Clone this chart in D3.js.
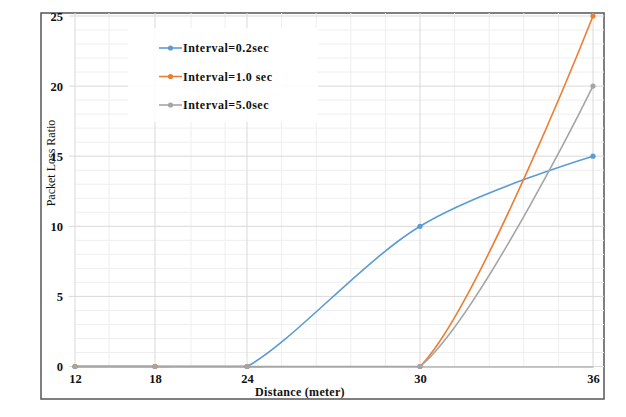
<!DOCTYPE html>
<html><head><meta charset="utf-8">
<script src="https://cdn.jsdelivr.net/npm/d3@7"></script>
<style>body{margin:0;background:#fff;}svg{display:block;}</style>
</head><body>
<script>
const distances = [12, 18, 24, 30, 36];
const interval02 = [0, 0, 0, 10, 15];
const interval10 = [0, 0, 0, 0, 25];
const interval50 = [0, 0, 0, 0, 20];
const seriesNames = ["Interval=0.2sec", "Interval=1.0 sec", "Interval=5.0sec"];
const yTicks = [0, 5, 10, 15, 20, 25];
const minorX = [14.55, 20.35, 22.57, 25.2, 26.4, 27.6, 28.8, 31.2, 32.4, 33.6, 34.8];

const W = 626, H = 417;
const svg = d3.select("body").append("svg").attr("width", W).attr("height", H);

const x = d3.scaleLinear().domain(distances).range([75, 155, 247, 420, 593]);
const y = d3.scaleLinear().domain([0, 25]).range([366.5, 16]);

const colors = ["#5B9BD5", "#ED7D31", "#A5A5A5"];
const serif = "Liberation Serif, Times New Roman, serif";

// frame
svg.append("rect").attr("x", 41).attr("y", 13).attr("width", 563).attr("height", 386)
  .attr("fill", "#fff").attr("stroke", "#555").attr("stroke-width", 1.5);

// grid
const g = svg.append("g");
d3.range(0, 26, 1).forEach(v => {
  if (v % 5 !== 0) g.append("line").attr("x1", x(12)).attr("x2", 604).attr("y1", y(v)).attr("y2", y(v))
    .attr("stroke", "#eeeeee").attr("stroke-width", 1);
});
minorX.forEach(v => g.append("line").attr("x1", x(v)).attr("x2", x(v)).attr("y1", y(0)).attr("y2", 13)
  .attr("stroke", "#eeeeee").attr("stroke-width", 1));
yTicks.forEach(v => g.append("line").attr("x1", x(12) - 6).attr("x2", 604).attr("y1", y(v)).attr("y2", y(v))
  .attr("stroke", "#d9d9d9").attr("stroke-width", 1));
distances.forEach(v => g.append("line").attr("x1", x(v)).attr("x2", x(v)).attr("y1", y(0)).attr("y2", 13)
  .attr("stroke", "#d9d9d9").attr("stroke-width", 1));

// legend background
svg.append("rect").attr("x", 128).attr("y", 28).attr("width", 190).attr("height", 94)
  .attr("fill", "#fff").attr("opacity", 0.9);

// axes labels
const yAxis = d3.axisLeft(y).tickValues(yTicks).tickSize(0).tickPadding(12);
const ya = svg.append("g").attr("transform", `translate(${x(12)},0)`).call(yAxis);
ya.select(".domain").remove();
ya.selectAll("text").attr("font-family", serif).attr("font-weight", "bold").attr("font-size", 12.5).attr("fill", "#111");

const xAxis = d3.axisBottom(x).tickValues(distances).tickSize(0).tickPadding(8);
const xa = svg.append("g").attr("transform", `translate(0,${y(0)})`).call(xAxis);
xa.select(".domain").attr("stroke", "#b5b5b5").attr("stroke-width", 1.5);
xa.selectAll("text").attr("font-family", serif).attr("font-weight", "bold").attr("font-size", 12.5).attr("fill", "#111");

svg.append("text").attr("x", 300).attr("y", 396).attr("text-anchor", "middle")
  .attr("font-family", serif).attr("font-weight", "bold").attr("font-size", 12).attr("letter-spacing", 0.3).attr("fill", "#111")
  .text("Distance (meter)");
svg.append("text").attr("transform", "translate(55,163) rotate(-90)").attr("text-anchor", "middle")
  .attr("font-family", serif).attr("font-size", 12).attr("fill", "#111")
  .text("Packet Loss Ratio");

// clip (keep smoothed curves above the baseline)
svg.append("clipPath").attr("id", "plotclip").append("rect")
  .attr("x", 0).attr("y", 0).attr("width", W).attr("height", y(0) + 0.8);

// series
const data = [interval02, interval10, interval50];
const line = d3.line().x(d => x(d[0])).y(d => y(d[1])).curve(d3.curveCardinal.tension(0));
data.forEach((vals, i) => {
  const pts = distances.map((d, j) => [d, vals[j]]);
  svg.append("path").attr("d", line(pts)).attr("fill", "none").attr("clip-path", "url(#plotclip)")
    .attr("stroke", colors[i]).attr("stroke-width", 1.6);
});
// flat zero segment of the last series
const last = data[2];
const zeroPts = distances.map((d, j) => [d, last[j]]).filter(d => d[1] === 0);
svg.append("path").attr("d", d3.line().x(d => x(d[0])).y(d => y(d[1]))(zeroPts))
  .attr("fill", "none").attr("stroke", colors[2]).attr("stroke-width", 1.6);
data.forEach((vals, i) => {
  const pts = distances.map((d, j) => [d, vals[j]]);
  svg.selectAll(null).data(pts).enter().append("circle")
    .attr("cx", d => x(d[0])).attr("cy", d => y(d[1])).attr("r", 2.6).attr("fill", colors[i]);
});

// legend
seriesNames.forEach((name, i) => {
  const ly = 48 + i * 28.5;
  const lg = svg.append("g");
  lg.append("line").attr("x1", 159).attr("x2", 182).attr("y1", ly).attr("y2", ly).attr("stroke", colors[i]).attr("stroke-width", 1.6);
  lg.append("circle").attr("cx", 170.5).attr("cy", ly).attr("r", 2.6).attr("fill", colors[i]);
  lg.append("text").attr("x", 183).attr("y", ly + 4).attr("font-family", serif).attr("font-weight", "bold")
    .attr("font-size", 12).attr("letter-spacing", 0.5).attr("fill", "#111").text(name);
});
</script>
</body></html>
